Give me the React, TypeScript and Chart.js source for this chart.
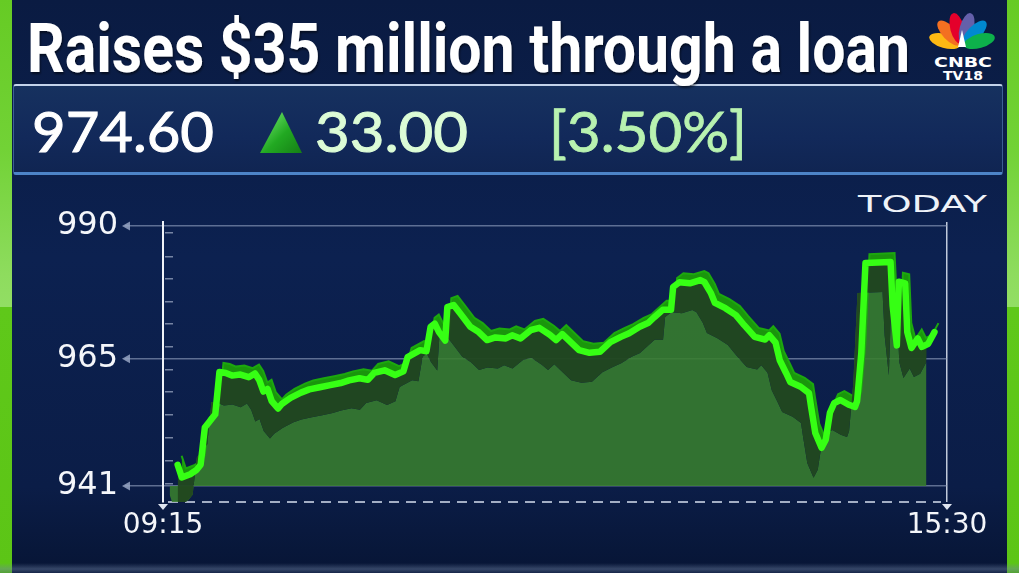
import React, { useEffect, useRef } from "react";
import { Chart, registerables } from "chart.js";

Chart.register(...registerables);

// ---------- text content ----------
const TITLE = "Raises $35 million through a loan";
const LAST_PRICE = "974.60";
const CHANGE = "33.00";
const CHANGE_PCT = "[3.50%]";
const PERIOD_LABEL = "TODAY";

// ---------- axes ----------
const SESSION_START = "09:15";
const SESSION_END = "15:30";
const X_TICK_LABELS = [SESSION_START, SESSION_END];
const Y_TICKS = [941, 965, 990];
const Y_MINOR_TICKS = [988.7, 984.2, 980.0, 975.7, 971.5, 967.2, 962.9, 958.7, 954.4, 950.1, 945.7, 941.4];
const Y_MIN = 937.98;
const Y_MAX = 990.75;
const FILL_BASE = 941;

// ---------- series ----------
const TIMES = [
  "09:22", "09:24", "09:28", "09:31", "09:33", "09:35", "09:37", "09:40", "09:42", "09:45",
  "09:48", "09:52", "09:56", "09:59", "10:01", "10:03", "10:05", "10:07", "10:10", "10:12",
  "10:16", "10:21", "10:25", "10:30", "10:35", "10:40", "10:44", "10:49", "10:53", "10:56",
  "11:01", "11:06", "11:10", "11:12", "11:18", "11:21", "11:23", "11:25", "11:27", "11:30",
  "11:31", "11:34", "11:37", "11:42", "11:46", "11:50", "11:54", "11:59", "12:02", "12:06",
  "12:11", "12:15", "12:20", "12:23", "12:26", "12:30", "12:34", "12:39", "12:44", "12:49",
  "12:54", "12:58", "13:03", "13:07", "13:10", "13:14", "13:18", "13:19", "13:22", "13:27",
  "13:32", "13:34", "13:37", "13:39", "13:44", "13:49", "13:53", "13:58", "14:03", "14:05",
  "14:08", "14:10", "14:13", "14:15", "14:20", "14:24", "14:25", "14:27", "14:30", "14:32",
  "14:34", "14:36", "14:39", "14:43", "14:46", "14:47", "14:49", "14:51", "15:03", "15:04",
  "15:06", "15:07", "15:10", "15:11", "15:13", "15:16", "15:18", "15:21", "15:24",
];
const PRICES = [
  945.0, 942.6, 943.2, 944.0, 945.0, 952.0, 953.0, 954.5, 962.5, 962.3,
  961.8, 962.0, 961.5, 962.2, 961.0, 958.8, 959.3, 957.0, 955.6, 956.5,
  957.6, 958.6, 959.2, 959.6, 960.0, 960.4, 960.9, 961.3, 961.0, 962.3,
  962.8, 961.9, 962.6, 965.3, 966.6, 966.4, 971.0, 971.6, 970.0, 968.4,
  974.7, 975.1, 973.6, 971.0, 970.0, 968.5, 969.0, 968.8, 969.4, 968.8,
  970.4, 970.8, 969.5, 968.5, 969.6, 968.1, 966.6, 966.1, 966.3, 968.1,
  969.1, 969.8, 971.0, 971.7, 972.8, 974.2, 974.2, 978.5, 979.4, 979.2,
  979.8, 979.4, 977.4, 975.5, 974.5, 973.2, 971.3, 969.1, 968.6, 969.4,
  968.0, 964.7, 962.3, 960.6, 959.7, 958.5, 955.9, 951.0, 948.2, 949.7,
  954.8, 956.6, 957.2, 956.3, 955.9, 957.0, 966.0, 983.0, 983.2, 975.0,
  967.5, 979.5, 979.2, 970.0, 967.0, 968.8, 967.2, 967.8, 970.0,
];

// ---------- layout (pixels) ----------
const W = 1019;
const H = 573;
const AREA_LEFT = 163;
const AREA_RIGHT = 947;
const AREA_TOP = 222;
const AREA_BOTTOM = 502;
const MINOR_AXIS_PX = 173;
const FLOOR_DX = -8;
const FLOOR_DY = 30;
const TOP_DX = 4;
const TOP_DY = -9;

const toMinutes = (t: string) => {
  const [h, m] = t.split(":").map(Number);
  return h * 60 + m;
};
const X_MIN = 0;
const X_MAX = toMinutes(SESSION_END) - toMinutes(SESSION_START);
const UNIT_PER_PX_X = (X_MAX - X_MIN) / (AREA_RIGHT - AREA_LEFT);
const UNIT_PER_PX_Y = (Y_MAX - Y_MIN) / (AREA_BOTTOM - AREA_TOP);

const decorPlugin = {
  id: "decor",
  beforeDatasetsDraw(chart: any) {
    const { ctx, chartArea } = chart;
    ctx.save();
    ctx.strokeStyle = "rgba(190,200,218,0.85)";
    ctx.lineWidth = 2;
    ctx.setLineDash([10, 7]);
    ctx.beginPath();
    ctx.moveTo(chartArea.left + 5, chartArea.bottom);
    ctx.lineTo(chartArea.right - 6, chartArea.bottom);
    ctx.stroke();
    ctx.restore();
  },
  afterDraw(chart: any) {
    const { ctx, chartArea } = chart;
    const y = chart.scales.y;
    const x = chart.scales.x;
    ctx.save();
    ctx.fillStyle = "rgba(150,165,195,0.85)";
    Y_TICKS.forEach((v) => {
      const py = y.getPixelForValue(v);
      const tipX = chartArea.left - 41;
      ctx.beginPath();
      ctx.moveTo(tipX, py);
      ctx.lineTo(tipX + 8, py - 4.5);
      ctx.lineTo(tipX + 8, py + 4.5);
      ctx.closePath();
      ctx.fill();
    });
    ctx.fillStyle = "rgba(235,240,250,0.95)";
    [X_MIN, X_MAX].forEach((v) => {
      const px = x.getPixelForValue(v);
      ctx.beginPath();
      ctx.moveTo(px - 5, chartArea.bottom + 2);
      ctx.lineTo(px + 5, chartArea.bottom + 2);
      ctx.lineTo(px, chartArea.bottom + 8);
      ctx.closePath();
      ctx.fill();
    });
    ctx.restore();
  },
};

function PriceChart() {
  const ref = useRef<HTMLCanvasElement | null>(null);
  useEffect(() => {
    const canvas = ref.current;
    if (!canvas) return;
    const points = TIMES.map((t, i) => ({ x: toMinutes(t) - toMinutes(SESSION_START), y: PRICES[i] }));
    const chart = new Chart(canvas, {
      type: "line",
      data: {
        datasets: [
          {
            label: "price",
            data: points,
            xAxisID: "x",
            yAxisID: "y",
            borderColor: "#36ff14",
            borderWidth: 6.5,
            borderJoinStyle: "round",
            borderCapStyle: "round",
            pointRadius: 0,
            tension: 0,
            fill: 2,
            backgroundColor: "rgba(33,72,31,0.96)",
          },
          {
            label: "ribbon",
            data: points,
            xAxisID: "xTop",
            yAxisID: "yTop",
            borderColor: "rgba(28,168,14,1)",
            borderWidth: 2,
            pointRadius: 0,
            tension: 0,
            fill: 0,
            backgroundColor: "rgb(26,150,12)",
          },
          {
            label: "floor",
            data: points,
            xAxisID: "xFloor",
            yAxisID: "yFloor",
            borderColor: "rgba(0,0,0,0)",
            borderWidth: 0,
            pointRadius: 0,
            tension: 0,
            fill: { value: FILL_BASE + FLOOR_DY * UNIT_PER_PX_Y },
            backgroundColor: "rgba(56,126,46,0.88)",
          },
        ],
      },
      options: {
        responsive: false,
        animation: false,
        devicePixelRatio: 1,
        layout: { padding: { left: 0, top: AREA_TOP, right: W - AREA_RIGHT, bottom: 0 } },
        plugins: { legend: { display: false }, tooltip: { enabled: false } },
        scales: {
          x: {
            type: "linear",
            min: X_MIN,
            max: X_MAX,
            afterBuildTicks: (s: any) => {
              s.ticks = [{ value: X_MIN }, { value: X_MAX }];
            },
            afterFit: (s: any) => {
              s.height = H - AREA_BOTTOM;
            },
            ticks: {
              autoSkip: false,
              maxRotation: 0,
              padding: 7,
              color: "#f4f6fa",
              font: { family: "DejaVu Sans", size: 28 },
              callback: (_v: any, i: number) => X_TICK_LABELS[i],
            },
            grid: {
              drawTicks: false,
              color: (c: any) => (c.index === 1 ? "rgba(225,232,245,0.85)" : "rgba(0,0,0,0)"),
              lineWidth: 1.5,
            },
            border: { display: false },
          },
          y: {
            type: "linear",
            min: Y_MIN,
            max: Y_MAX,
            afterBuildTicks: (s: any) => {
              s.ticks = Y_TICKS.map((v) => ({ value: v }));
            },
            afterFit: (s: any) => {
              s.width = AREA_LEFT;
            },
            ticks: {
              padding: 7,
              color: "#f4f6fa",
              font: { family: "DejaVu Sans", size: 32 },
              callback: (v: any) => String(v),
            },
            grid: { color: "rgba(150,165,195,0.6)", lineWidth: 1.5, tickLength: 38 },
            border: { display: true, color: "#f0f3f8", width: 2 },
          },
          yMinor: {
            type: "linear",
            position: { x: X_MIN + (MINOR_AXIS_PX - AREA_LEFT) * UNIT_PER_PX_X },
            min: Y_MIN,
            max: Y_MAX,
            afterBuildTicks: (s: any) => {
              s.ticks = Y_MINOR_TICKS.map((v) => ({ value: v }));
            },
            ticks: { display: false },
            grid: { drawOnChartArea: false, drawTicks: true, tickLength: 8, color: "rgba(190,200,222,0.6)", lineWidth: 1.5 },
            border: { display: false },
          },
          xFloor: { type: "linear", display: false, min: X_MIN - FLOOR_DX * UNIT_PER_PX_X, max: X_MAX - FLOOR_DX * UNIT_PER_PX_X },
          yFloor: { type: "linear", display: false, min: Y_MIN + FLOOR_DY * UNIT_PER_PX_Y, max: Y_MAX + FLOOR_DY * UNIT_PER_PX_Y },
          xTop: { type: "linear", display: false, min: X_MIN - TOP_DX * UNIT_PER_PX_X, max: X_MAX - TOP_DX * UNIT_PER_PX_X },
          yTop: { type: "linear", display: false, min: Y_MIN + TOP_DY * UNIT_PER_PX_Y, max: Y_MAX + TOP_DY * UNIT_PER_PX_Y },
        },
      } as any,
      plugins: [decorPlugin],
    } as any);
    return () => chart.destroy();
  }, []);
  return <canvas ref={ref} width={W} height={H} style={{ position: "absolute", left: 0, top: 0 }} />;
}

function Logo() {
  const feathers = ["#fdb913", "#f37021", "#e4002b", "#6460aa", "#0089d0", "#0db14b"];
  const angles = [-74, -44, -15, 15, 44, 74];
  return (
    <svg width={70} height={72} style={{ position: "absolute", left: 928, top: 11 }}>
      <g>
        {feathers.map((c, i) => (
          <ellipse key={i} cx={34} cy={17} rx={7} ry={16} fill={c} transform={`rotate(${angles[i]} 34 35)`} />
        ))}
        <path d="M30 36 L34 19 L38 36 Z" fill="#ffffff" />
      </g>
      <text x={6} y={56} fill="#ffffff" fontFamily="DejaVu Sans" fontWeight={700} fontSize={14} textLength={58} lengthAdjust="spacingAndGlyphs">CNBC</text>
      <text x={15} y={69} fill="#ffffff" fontFamily="DejaVu Sans" fontWeight={700} fontSize={13} textLength={40} lengthAdjust="spacingAndGlyphs">TV18</text>
    </svg>
  );
}

function GreenBar({ left }: { left: number }) {
  return (
    <div
      style={{
        position: "absolute",
        left,
        top: 0,
        width: 12,
        height: H,
        background:
          "linear-gradient(180deg, #66cb24 0%, #72d236 26%, #8edc5e 48%, #92de64 53.5%, #5fc81a 53.6%, #5cc516 100%)",
      }}
    />
  );
}

export default function App() {
  return (
    <div
      style={{
        position: "fixed",
        left: 0,
        top: 0,
        width: W,
        height: H,
        overflow: "hidden",
        background: "linear-gradient(180deg, #0a1b42 0%, #0c2150 45%, #0b1d47 85%, #071535 100%)",
      }}
    >
      <GreenBar left={0} />
      <GreenBar left={W - 12} />
      <div
        style={{
          position: "absolute",
          left: 13,
          top: 84,
          width: 990,
          height: 91,
          boxSizing: "border-box",
          background: "linear-gradient(180deg, #16315f 0%, #12295a 60%, #102552 100%)",
          borderTop: "2px solid #c3d2ea",
          borderBottom: "3px solid #4d84c8",
          borderLeft: "1px solid rgba(90,130,190,0.6)",
          borderRight: "1px solid rgba(90,130,190,0.6)",
          borderRadius: 3,
        }}
      />
      <div
        style={{
          position: "absolute",
          left: 0,
          top: H - 10,
          width: W,
          height: 10,
          background: "linear-gradient(180deg, rgba(90,110,150,0) 0%, rgba(110,130,165,0.45) 60%, rgba(60,80,120,0.3) 100%)",
        }}
      />
      <svg width={W} height={230} style={{ position: "absolute", left: 0, top: 0 }}>
        <defs>
          <linearGradient id="tri" x1="0" y1="0" x2="1" y2="1">
            <stop offset="0%" stopColor="#7ef07a" />
            <stop offset="55%" stopColor="#22a922" />
            <stop offset="100%" stopColor="#157f15" />
          </linearGradient>
          <filter id="tshadow" x="-5%" y="-20%" width="110%" height="150%">
            <feDropShadow dx="1" dy="2" stdDeviation="1.2" floodColor="#000000" floodOpacity="0.55" />
          </filter>
        </defs>
        <text x={27} y={72} fill="#ffffff" fontFamily="Roboto" fontWeight={700} fontSize={68} textLength={883} lengthAdjust="spacingAndGlyphs" filter="url(#tshadow)">
          {TITLE}
        </text>
        <text x={32} y={152} fill="#ffffff" stroke="#ffffff" strokeWidth={1} fontFamily="Lato" fontSize={56} textLength={182} lengthAdjust="spacingAndGlyphs">
          {LAST_PRICE}
        </text>
        <polygon points="260,153 282,112 302,153" fill="url(#tri)" />
        <text x={315} y={152} fill="#dcfcd6" stroke="#dcfcd6" strokeWidth={1} fontFamily="Lato" fontSize={56} textLength={153} lengthAdjust="spacingAndGlyphs">
          {CHANGE}
        </text>
        <text x={549} y={152} fill="#b8f2b0" stroke="#b8f2b0" strokeWidth={0.8} fontFamily="Lato" fontSize={56} textLength={198} lengthAdjust="spacingAndGlyphs">
          {CHANGE_PCT}
        </text>
        <text x={858} y={212} fill="#eef2f8" fontFamily="DejaVu Sans" fontSize={23} textLength={129} lengthAdjust="spacingAndGlyphs">
          {PERIOD_LABEL}
        </text>
      </svg>
      <Logo />
      <PriceChart />
    </div>
  );
}
